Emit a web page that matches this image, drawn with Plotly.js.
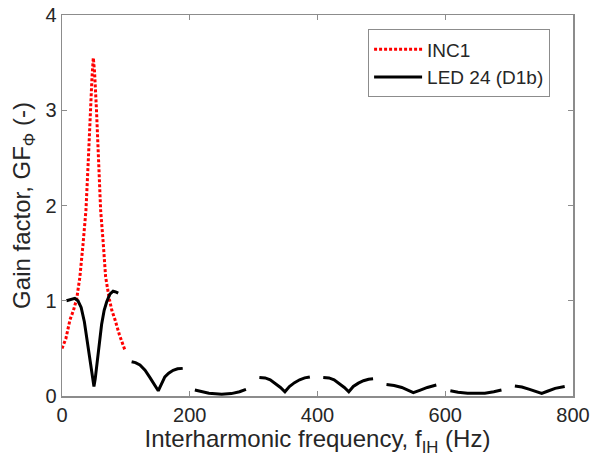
<!DOCTYPE html>
<html>
<head>
<meta charset="utf-8">
<script src="https://cdn.plot.ly/plotly-3.0.1.min.js"></script>
<style>html,body{margin:0;padding:0;background:#fff;}#chart{width:590px;height:466px;}</style>
</head>
<body>
<div id="chart"></div>
<script>
// INC1 gain factor (red dotted)
var incF = [0, 6, 12.5, 18, 23, 28, 33, 37.5, 41, 44, 47, 49, 51, 54, 57, 60.5, 64.6, 68.3, 74, 78, 83, 90, 98.6];
var incG = [0.50, 0.60, 0.80, 0.90, 1.02, 1.25, 1.60, 1.95, 2.45, 3.00, 3.35, 3.55, 3.40, 3.00, 2.50, 1.95, 1.60, 1.25, 1.02, 0.90, 0.80, 0.64, 0.48];

// LED 24 (D1b) gain factor (black solid), null separates segments
var ledF = [7, 14, 20, 25, 30, 35, 40, 45, 48, 50, 52, 55, 58.4, 62, 66, 70, 75, 80, 85, 88, null,
            109, 115, 122, 130, 138, 144, 150.7, 156, 161, 167, 174, 181, 189, null,
            208, 218, 230, 250, 265, 278, 288, null,
            309, 318, 326, 334, 342, 349, 356, 364, 372, 380, 388, null,
            409, 418, 426, 434, 442, 449, 456, 464, 472, 480, 487, null,
            508, 520, 532, 542, 550, 560, 572, 586, null,
            608, 620, 635, 649, 662, 676, 688, null,
            709, 720, 732, 743, 751, 760, 772, 787];
var ledG = [1.00, 1.01, 1.025, 1.00, 0.93, 0.78, 0.55, 0.32, 0.17, 0.10, 0.18, 0.35, 0.55, 0.75, 0.90, 0.99, 1.07, 1.10, 1.09, 1.08, null,
            0.36, 0.35, 0.325, 0.27, 0.19, 0.12, 0.055, 0.13, 0.20, 0.24, 0.27, 0.285, 0.29, null,
            0.063, 0.045, 0.03, 0.018, 0.025, 0.045, 0.07, null,
            0.195, 0.19, 0.17, 0.13, 0.09, 0.045, 0.10, 0.14, 0.17, 0.19, 0.20, null,
            0.195, 0.19, 0.17, 0.13, 0.09, 0.045, 0.10, 0.135, 0.16, 0.175, 0.18, null,
            0.12, 0.11, 0.09, 0.06, 0.035, 0.06, 0.09, 0.115, null,
            0.055, 0.04, 0.03, 0.027, 0.03, 0.045, 0.063, null,
            0.105, 0.095, 0.07, 0.045, 0.027, 0.05, 0.08, 0.10];

var xTicks = [0, 200, 400, 600, 800];
var yTicks = [0, 1, 2, 3, 4];

var textColor = '#262626';
var axisColor = '#8c8c8c';
var fam = 'Liberation Sans, Arial, sans-serif';

var traces = [
  {x: incF, y: incG, name: 'INC1', mode: 'lines', line: {color: '#ff0000', width: 3, dash: '3px,2px'}},
  {x: ledF, y: ledG, name: 'LED 24 (D1b)', mode: 'lines', connectgaps: false, line: {color: '#000000', width: 3}}
];

var axisBase = {
  showgrid: false, zeroline: false, showline: true, linecolor: axisColor, linewidth: 1.5,
  mirror: 'allticks', ticks: 'inside', ticklen: 5, tickcolor: axisColor, tickwidth: 1,
  tickfont: {family: fam, size: 20, color: textColor}
};

var layout = {
  width: 590, height: 466,
  margin: {l: 62, r: 17, t: 15, b: 70},
  paper_bgcolor: '#ffffff', plot_bgcolor: '#ffffff',
  font: {family: fam, color: textColor},
  showlegend: true,
  legend: {
    x: 0.599, y: 0.962, xanchor: 'left', yanchor: 'top',
    bordercolor: axisColor, borderwidth: 1, bgcolor: '#ffffff',
    font: {family: fam, size: 19, color: textColor},
    itemwidth: 48, tracegroupgap: 0
  },
  xaxis: Object.assign({}, axisBase, {
    range: [0, 800], tickvals: xTicks, ticktext: xTicks.map(String),
    title: {text: 'Interharmonic frequency, f<sub>IH</sub> (Hz)', font: {family: fam, size: 24, color: textColor}, standoff: 5}
  }),
  yaxis: Object.assign({}, axisBase, {
    range: [0, 4], tickvals: yTicks, ticktext: yTicks.map(String),
    title: {text: 'Gain factor, GF<sub>Φ</sub> (-)', font: {family: fam, size: 24, color: textColor}, standoff: 8}
  })
};

Plotly.newPlot('chart', traces, layout, {displayModeBar: false, staticPlot: true});
</script>
</body>
</html>
